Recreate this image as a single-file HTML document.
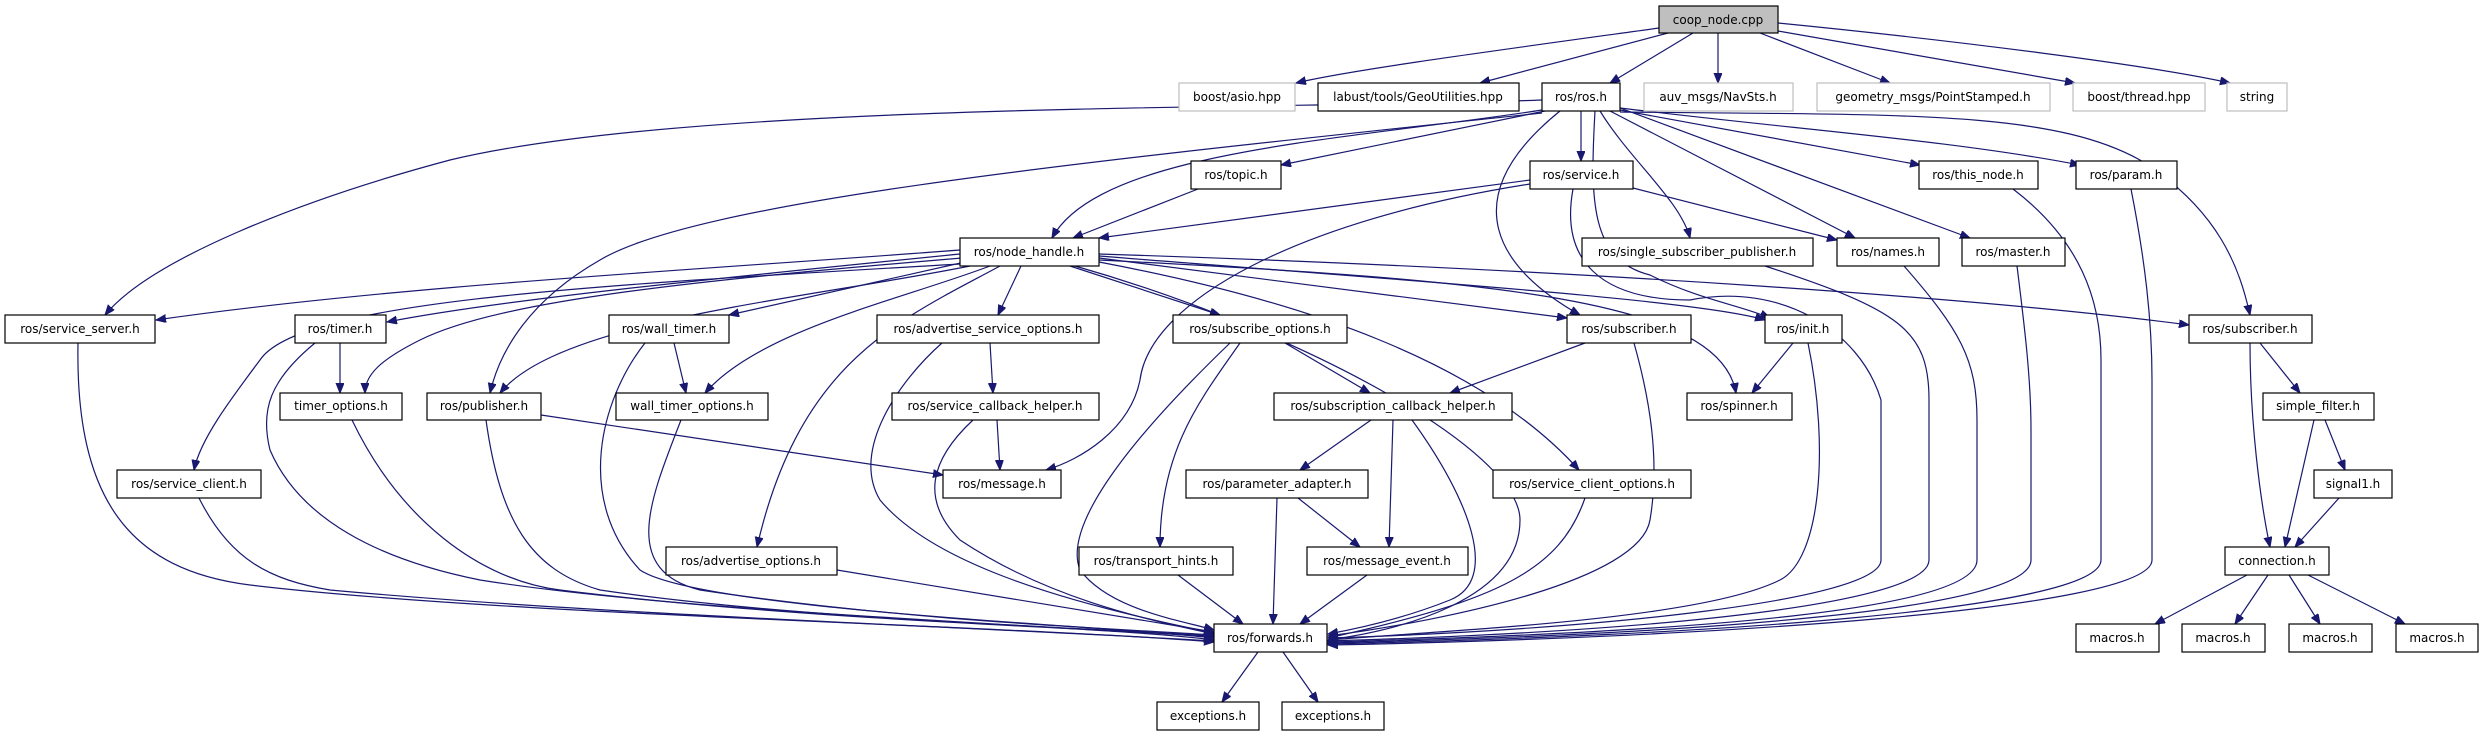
<!DOCTYPE html>
<html><head><meta charset="utf-8"><style>
html,body{margin:0;padding:0;background:#fff;}
svg{display:block;}
text{font-family:"DejaVu Sans","Liberation Sans",sans-serif;font-size:12px;fill:#000;text-anchor:middle;}
.n{fill:#fff;stroke:#000;stroke-width:1.2;}
.g{fill:#fff;stroke:#bfbfbf;stroke-width:1.2;}
.e{fill:none;stroke:#191970;stroke-width:1.2;marker-end:url(#a);}
</style></head><body>
<svg width="2484" height="736" viewBox="0 0 2484 736" xmlns="http://www.w3.org/2000/svg">
<defs><marker id="a" markerUnits="userSpaceOnUse" markerWidth="11" markerHeight="9" refX="10" refY="4" orient="auto"><path d="M0,0 L10,4 L0,8 z" fill="#191970" stroke="#191970"/></marker></defs>
<g>
<path class="e" d="M1659,28 C1500,50 1350,70 1296,83"/>
<path class="e" d="M1668,33 L1480,83"/>
<path class="e" d="M1693,33 L1610,83"/>
<path class="e" d="M1718,33 L1718,83"/>
<path class="e" d="M1760,33 L1890,83"/>
<path class="e" d="M1778,31 L2075,83"/>
<path class="e" d="M1778,23 C1950,40 2150,65 2230,83"/>
<path class="e" d="M1542,100 C1300,110 700,100 450,160 C300,200 150,260 105,315"/>
<path class="e" d="M1542,110 C1350,140 1100,150 1052,238"/>
<path class="e" d="M1545,111 L1281,165"/>
<path class="e" d="M1581,111 L1581,161"/>
<path class="e" d="M1542,113 C1100,160 700,200 600,260 C530,300 500,350 490,393"/>
<path class="e" d="M1560,111 C1450,200 1500,270 1580,315"/>
<path class="e" d="M1600,111 C1630,160 1680,200 1690,238"/>
<path class="e" d="M1610,111 L1855,238"/>
<path class="e" d="M1620,108 L1970,238"/>
<path class="e" d="M1620,110 L1920,165"/>
<path class="e" d="M1620,108 C1800,130 1950,140 2080,165"/>
<path class="e" d="M1620,112 C1900,115 2050,110 2140,160 C2220,210 2240,270 2250,315"/>
<path class="e" d="M1595,111 C1590,200 1590,260 1650,275 C1700,300 1740,305 1770,318"/>
<path class="e" d="M1198,189 L1073,238"/>
<path class="e" d="M1530,180 L1099,238"/>
<path class="e" d="M1633,188 L1837,240"/>
<path class="e" d="M1530,184 C1300,220 1150,300 1140,380 C1130,430 1080,460 1046,470"/>
<path class="e" d="M1573,189 C1560,260 1600,300 1690,300 C1780,282 1860,330 1881,400 L1881,560 C1881,600 1600,630 1328,638"/>
<path class="e" d="M960,250 C700,270 400,285 156,320"/>
<path class="e" d="M960,254 C700,280 500,300 387,322"/>
<path class="e" d="M965,262 L729,315"/>
<path class="e" d="M962,258 C700,280 500,300 420,340 C380,360 365,375 365,393"/>
<path class="e" d="M970,266 C800,300 560,320 500,393"/>
<path class="e" d="M990,266 C900,300 760,330 705,393"/>
<path class="e" d="M960,264 C600,285 300,300 260,360 C230,400 200,440 194,470"/>
<path class="e" d="M1021,266 L998,315"/>
<path class="e" d="M1070,266 L1220,315"/>
<path class="e" d="M1000,266 C900,320 800,360 757,547"/>
<path class="e" d="M1099,258 L1567,318"/>
<path class="e" d="M1099,256 C1400,280 1700,300 1765,320"/>
<path class="e" d="M1099,260 C1500,280 1720,300 1736,393"/>
<path class="e" d="M1099,262 C1300,300 1480,360 1579,470"/>
<path class="e" d="M1075,266 C1300,330 1520,450 1520,520 C1520,600 1400,630 1328,640"/>
<path class="e" d="M1099,254 C1600,270 2000,300 2189,325"/>
<path class="e" d="M78,343 C75,500 130,570 250,585 C500,615 1000,625 1214,642"/>
<path class="e" d="M340,343 L340,393"/>
<path class="e" d="M315,343 C270,380 260,410 270,450 C300,520 380,560 480,580 C700,615 1100,625 1214,640"/>
<path class="e" d="M674,343 L686,393"/>
<path class="e" d="M645,343 C600,400 575,500 640,570 C700,610 1100,625 1214,638"/>
<path class="e" d="M352,420 C400,520 480,580 560,590 C800,620 1100,628 1214,637"/>
<path class="e" d="M486,420 C500,520 530,570 600,590 C800,620 1100,628 1214,636"/>
<path class="e" d="M681,420 C650,500 620,570 700,590 C900,620 1100,628 1214,635"/>
<path class="e" d="M199,498 C230,560 270,580 330,590 C600,615 1000,628 1214,641"/>
<path class="e" d="M541,415 L943,475"/>
<path class="e" d="M837,570 L1214,632"/>
<path class="e" d="M990,343 L993,393"/>
<path class="e" d="M942,343 C900,380 850,450 880,500 C930,560 1050,600 1214,633"/>
<path class="e" d="M997,420 L1000,470"/>
<path class="e" d="M973,420 C930,460 920,500 960,540 C1050,600 1150,620 1214,634"/>
<path class="e" d="M1285,343 L1370,393"/>
<path class="e" d="M1240,343 C1200,400 1160,450 1160,547"/>
<path class="e" d="M1230,343 C1150,420 1060,520 1080,570 C1110,610 1180,620 1214,630"/>
<path class="e" d="M1585,343 L1450,393"/>
<path class="e" d="M1634,343 C1650,400 1660,460 1650,520 C1640,580 1450,620 1328,636"/>
<path class="e" d="M1371,420 L1300,470"/>
<path class="e" d="M1393,420 L1389,547"/>
<path class="e" d="M1412,420 C1470,500 1500,580 1450,600 C1400,620 1350,630 1328,634"/>
<path class="e" d="M1298,498 L1360,547"/>
<path class="e" d="M1277,498 L1273,624"/>
<path class="e" d="M1178,575 L1243,624"/>
<path class="e" d="M1367,575 L1300,624"/>
<path class="e" d="M1585,498 C1560,570 1500,600 1328,638"/>
<path class="e" d="M1258,652 L1222,702"/>
<path class="e" d="M1283,652 L1318,702"/>
<path class="e" d="M1793,343 L1752,393"/>
<path class="e" d="M1808,343 C1830,450 1820,560 1780,580 C1700,620 1450,630 1328,640"/>
<path class="e" d="M1765,266 C1900,310 1929,330 1929,400 L1929,560 C1929,600 1700,630 1328,641"/>
<path class="e" d="M1904,266 C1960,330 1977,360 1977,420 L1977,560 C1977,610 1700,632 1328,642"/>
<path class="e" d="M2017,266 C2025,330 2031,380 2031,430 L2031,560 C2031,610 1700,634 1328,643"/>
<path class="e" d="M2013,189 C2080,240 2101,300 2101,360 L2101,560 C2101,610 1700,636 1328,644"/>
<path class="e" d="M2131,189 C2145,260 2152,320 2152,380 L2152,560 C2152,610 1700,638 1328,645"/>
<path class="e" d="M2260,343 L2300,393"/>
<path class="e" d="M2250,343 C2250,420 2260,500 2270,547"/>
<path class="e" d="M2314,420 L2285,547"/>
<path class="e" d="M2325,420 L2345,470"/>
<path class="e" d="M2339,498 L2295,547"/>
<path class="e" d="M2247,575 L2155,624"/>
<path class="e" d="M2268,575 L2235,624"/>
<path class="e" d="M2289,575 L2320,624"/>
<path class="e" d="M2308,575 L2405,624"/>
</g>
<g>
<rect x="1659" y="6" width="119" height="27" fill="#bfbfbf" stroke="#000" stroke-width="1.2"/><text x="1718" y="24">coop_node.cpp</text>
<rect class="g" x="1179" y="83" width="116" height="28"/><text x="1237" y="101">boost/asio.hpp</text>
<rect class="n" x="1318" y="83" width="201" height="28"/><text x="1418" y="101">labust/tools/GeoUtilities.hpp</text>
<rect class="n" x="1542" y="83" width="78" height="28"/><text x="1581" y="101">ros/ros.h</text>
<rect class="g" x="1644" y="83" width="149" height="28"/><text x="1718" y="101">auv_msgs/NavSts.h</text>
<rect class="g" x="1817" y="83" width="233" height="28"/><text x="1933" y="101">geometry_msgs/PointStamped.h</text>
<rect class="g" x="2073" y="83" width="132" height="28"/><text x="2139" y="101">boost/thread.hpp</text>
<rect class="g" x="2227" y="83" width="60" height="28"/><text x="2257" y="101">string</text>
<rect class="n" x="1191" y="161" width="90" height="28"/><text x="1236" y="179">ros/topic.h</text>
<rect class="n" x="1530" y="161" width="103" height="28"/><text x="1581" y="179">ros/service.h</text>
<rect class="n" x="1919" y="161" width="119" height="28"/><text x="1978" y="179">ros/this_node.h</text>
<rect class="n" x="2076" y="161" width="101" height="28"/><text x="2126" y="179">ros/param.h</text>
<rect class="n" x="960" y="238" width="139" height="28"/><text x="1029" y="256">ros/node_handle.h</text>
<rect class="n" x="1582" y="238" width="231" height="28"/><text x="1697" y="256">ros/single_subscriber_publisher.h</text>
<rect class="n" x="1837" y="238" width="102" height="28"/><text x="1888" y="256">ros/names.h</text>
<rect class="n" x="1962" y="238" width="103" height="28"/><text x="2013" y="256">ros/master.h</text>
<rect class="n" x="5" y="315" width="150" height="28"/><text x="80" y="333">ros/service_server.h</text>
<rect class="n" x="295" y="315" width="91" height="28"/><text x="340" y="333">ros/timer.h</text>
<rect class="n" x="609" y="315" width="120" height="28"/><text x="669" y="333">ros/wall_timer.h</text>
<rect class="n" x="877" y="315" width="222" height="28"/><text x="988" y="333">ros/advertise_service_options.h</text>
<rect class="n" x="1173" y="315" width="174" height="28"/><text x="1260" y="333">ros/subscribe_options.h</text>
<rect class="n" x="1567" y="315" width="124" height="28"/><text x="1629" y="333">ros/subscriber.h</text>
<rect class="n" x="1765" y="315" width="77" height="28"/><text x="1803" y="333">ros/init.h</text>
<rect class="n" x="2189" y="315" width="123" height="28"/><text x="2250" y="333">ros/subscriber.h</text>
<rect class="n" x="280" y="393" width="122" height="27"/><text x="341" y="410">timer_options.h</text>
<rect class="n" x="427" y="393" width="114" height="27"/><text x="484" y="410">ros/publisher.h</text>
<rect class="n" x="616" y="393" width="152" height="27"/><text x="692" y="410">wall_timer_options.h</text>
<rect class="n" x="892" y="393" width="207" height="27"/><text x="995" y="410">ros/service_callback_helper.h</text>
<rect class="n" x="1274" y="393" width="238" height="27"/><text x="1393" y="410">ros/subscription_callback_helper.h</text>
<rect class="n" x="1687" y="393" width="105" height="27"/><text x="1739" y="410">ros/spinner.h</text>
<rect class="n" x="2263" y="393" width="111" height="27"/><text x="2318" y="410">simple_filter.h</text>
<rect class="n" x="117" y="470" width="144" height="28"/><text x="189" y="488">ros/service_client.h</text>
<rect class="n" x="943" y="470" width="118" height="28"/><text x="1002" y="488">ros/message.h</text>
<rect class="n" x="1186" y="470" width="182" height="28"/><text x="1277" y="488">ros/parameter_adapter.h</text>
<rect class="n" x="1493" y="470" width="198" height="28"/><text x="1592" y="488">ros/service_client_options.h</text>
<rect class="n" x="2314" y="470" width="78" height="28"/><text x="2353" y="488">signal1.h</text>
<rect class="n" x="666" y="547" width="171" height="28"/><text x="751" y="565">ros/advertise_options.h</text>
<rect class="n" x="1079" y="547" width="154" height="28"/><text x="1156" y="565">ros/transport_hints.h</text>
<rect class="n" x="1307" y="547" width="161" height="28"/><text x="1387" y="565">ros/message_event.h</text>
<rect class="n" x="2225" y="547" width="104" height="28"/><text x="2277" y="565">connection.h</text>
<rect class="n" x="1214" y="624" width="113" height="28"/><text x="1270" y="642">ros/forwards.h</text>
<rect class="n" x="2076" y="624" width="83" height="28"/><text x="2117" y="642">macros.h</text>
<rect class="n" x="2182" y="624" width="83" height="28"/><text x="2223" y="642">macros.h</text>
<rect class="n" x="2289" y="624" width="83" height="28"/><text x="2330" y="642">macros.h</text>
<rect class="n" x="2396" y="624" width="82" height="28"/><text x="2437" y="642">macros.h</text>
<rect class="n" x="1157" y="702" width="102" height="28"/><text x="1208" y="720">exceptions.h</text>
<rect class="n" x="1282" y="702" width="102" height="28"/><text x="1333" y="720">exceptions.h</text>
</g>
</svg>
</body></html>
